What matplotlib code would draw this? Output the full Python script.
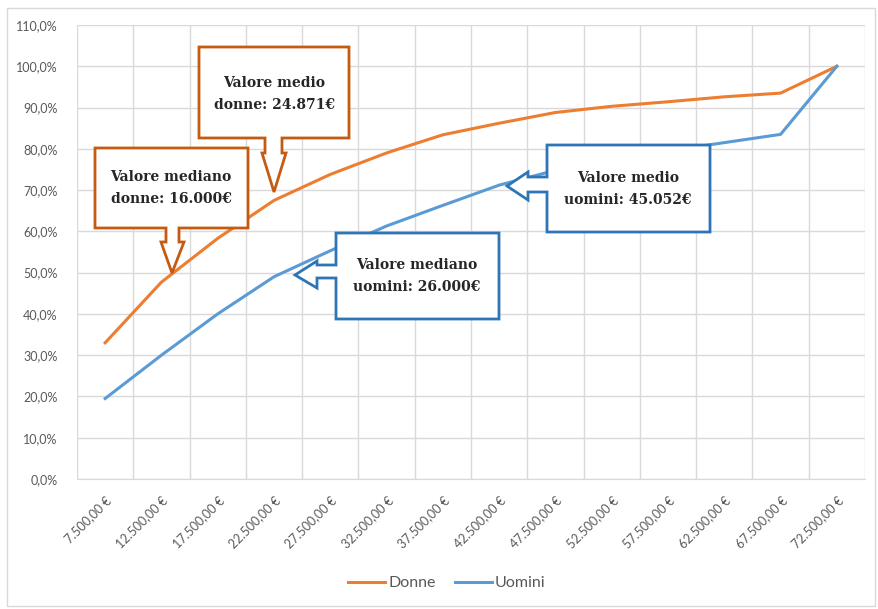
import matplotlib
matplotlib.use("Agg")
import matplotlib.pyplot as plt
from matplotlib.patches import Polygon, Rectangle
from matplotlib.ticker import FuncFormatter

# ---- data ----
categories = ["7.500,00 €", "12.500,00 €", "17.500,00 €", "22.500,00 €", "27.500,00 €",
              "32.500,00 €", "37.500,00 €", "42.500,00 €", "47.500,00 €", "52.500,00 €",
              "57.500,00 €", "62.500,00 €", "67.500,00 €", "72.500,00 €"]
donne = [0.330, 0.477, 0.583, 0.675, 0.738, 0.790, 0.834, 0.862, 0.888, 0.903,
         0.914, 0.926, 0.935, 1.000]
uomini = [0.195, 0.300, 0.400, 0.490, 0.553, 0.613, 0.663, 0.712, 0.748, 0.775,
          0.795, 0.815, 0.835, 1.000]
y_ticks = [0.0, 0.1, 0.2, 0.3, 0.4, 0.5, 0.6, 0.7, 0.8, 0.9, 1.0, 1.1]

W, H = 879, 609
fig = plt.figure(figsize=(W / 100, H / 100), dpi=100)
fig.patch.set_facecolor("white")


def fx(px):
    return px / W


def fy(py):
    return 1 - py / H


# outer chart border
fig.add_artist(Rectangle((fx(7), fy(606)), fx(868), (606 - 8) / H, transform=fig.transFigure,
                         fill=False, edgecolor="#D9D9D9", linewidth=1.0))

left, right, top, bottom = 77, 865, 25, 479
ax = fig.add_axes([fx(left), fy(bottom), (right - left) / W, (bottom - top) / H])

x = list(range(len(categories)))
ax.plot(x, donne, color="#ED7D31", linewidth=2.2, label="Donne", zorder=3)
ax.plot(x, uomini, color="#5B9BD5", linewidth=2.2, label="Uomini", zorder=3)

ax.set_xlim(-0.5, len(categories) - 0.5)
ax.set_ylim(0, 1.1)
ax.set_yticks(y_ticks)
ax.yaxis.set_major_formatter(FuncFormatter(lambda v, p: f"{v*100:.1f}%".replace(".", ",")))
ax.set_xticks(x)
ax.set_xticklabels(categories, rotation=45, ha="right", rotation_mode="anchor",
                   fontsize=9, color="#595959", family="Lato")
for lab in ax.get_yticklabels():
    lab.set_fontsize(9)
    lab.set_color("#595959")
    lab.set_family("Lato")

# vertical gridlines at category boundaries
ax.set_xticks([i - 0.5 for i in range(len(categories) + 1)], minor=True)
ax.grid(True, which="minor", axis="x", color="#D9D9D9", linewidth=1.0)
ax.grid(True, which="major", axis="y", color="#D9D9D9", linewidth=1.0)
ax.set_axisbelow(True)
ax.tick_params(axis="both", which="both", length=0)
ax.tick_params(axis="x", pad=11)
ax.tick_params(axis="y", pad=14)
for s in ["top", "left", "right"]:
    ax.spines[s].set_visible(False)
ax.spines["bottom"].set_color("#D9D9D9")

leg = fig.legend(loc="center", bbox_to_anchor=(fx(447), fy(583)), ncol=2, frameon=False,
                 prop={"family": "Lato", "size": 11.5}, handlelength=2.3, handletextpad=0.2,
                 columnspacing=1.2)
for t in leg.get_texts():
    t.set_color("#595959")

ORANGE_B = "#C55A11"
BLUE_B = "#2E75B6"


def down_callout(x0, y0, x1, y1, sl, sr, sy, hl, hr, tipx, tipy, color):
    pts = [(x0, y0), (x1, y0), (x1, y1), (sr, y1), (sr, sy), (hr, sy), (tipx, tipy),
           (hl, sy), (sl, sy), (sl, y1), (x0, y1)]
    pts = [(fx(a), fy(b)) for a, b in pts]
    fig.add_artist(Polygon(pts, closed=True, transform=fig.transFigure, facecolor="white",
                           edgecolor=color, linewidth=2.0, zorder=5))


def left_callout(x0, y0, x1, y1, st, sb, sx, ht, hb, tipx, tipy, color):
    pts = [(x0, y0), (x1, y0), (x1, y1), (x0, y1), (x0, sb), (sx, sb), (sx, hb), (tipx, tipy),
           (sx, ht), (sx, st), (x0, st)]
    pts = [(fx(a), fy(b)) for a, b in pts]
    fig.add_artist(Polygon(pts, closed=True, transform=fig.transFigure, facecolor="white",
                           edgecolor=color, linewidth=2.0, zorder=5))


def box_text(cx, cy, s):
    fig.text(fx(cx), fy(cy), s, ha="center", va="center", fontsize=10, color="#262626",
             family="DejaVu Serif", weight="bold", linespacing=1.7, zorder=6)


down_callout(199, 47, 349, 138, 265, 282, 153, 262, 286, 274, 192, ORANGE_B)
box_text(274, 94, "Valore medio\ndonne: 24.871€")

down_callout(95, 148, 248, 228, 166, 179, 242, 161, 184, 172, 273, ORANGE_B)
box_text(171, 188, "Valore mediano\ndonne: 16.000€")

left_callout(547, 145, 710, 232, 177, 192, 528, 172, 200, 507, 186, BLUE_B)
box_text(628, 189, "Valore medio\nuomini: 45.052€")

left_callout(336, 233, 499, 319, 265, 278, 317, 261, 288, 295, 275, BLUE_B)
box_text(417, 276, "Valore mediano\nuomini: 26.000€")

fig.savefig("out.png", dpi=100, facecolor="white")
